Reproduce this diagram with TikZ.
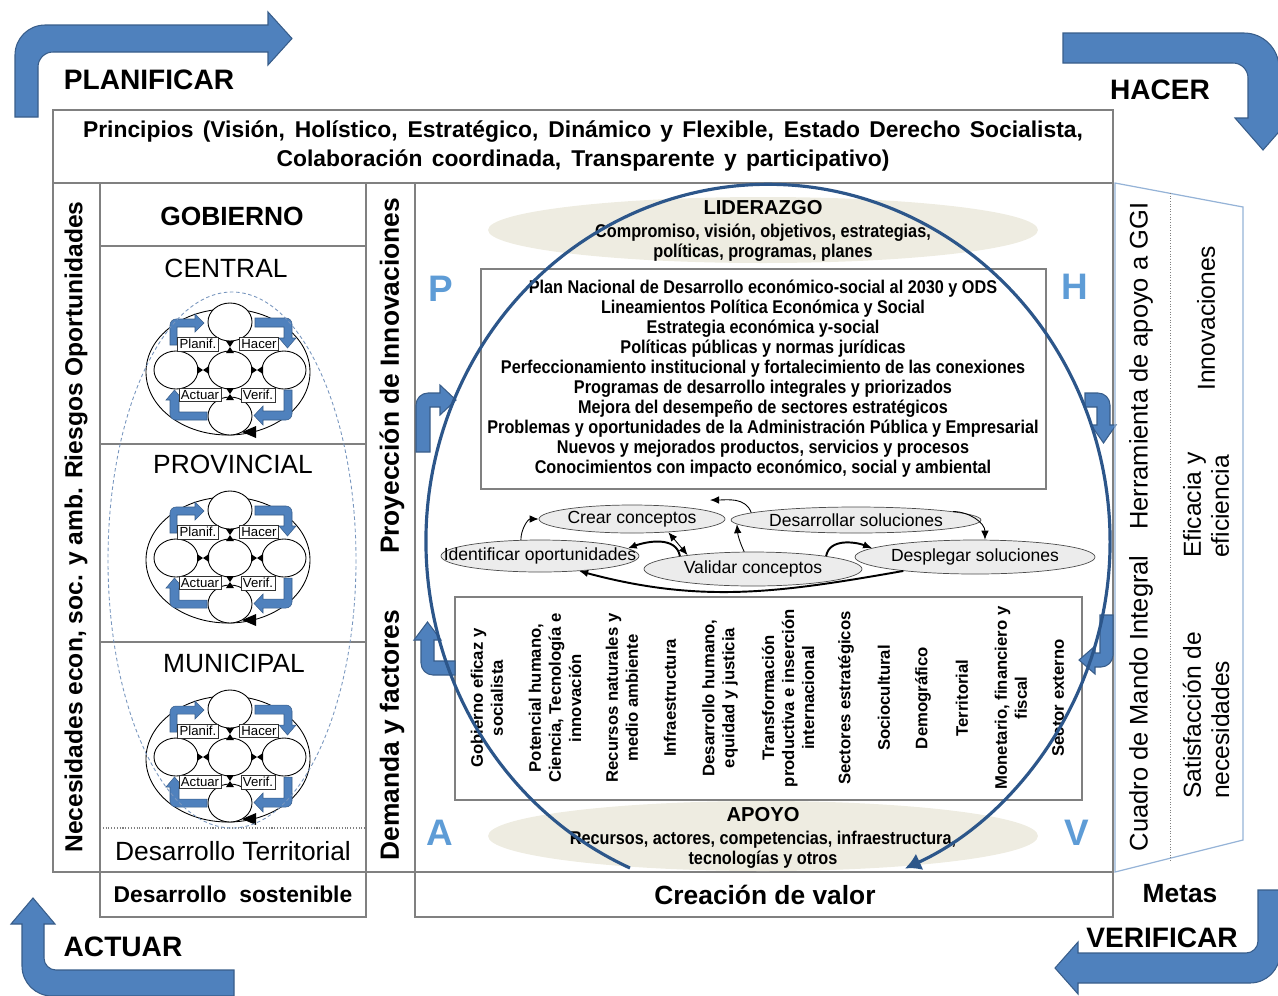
\documentclass[tikz,border=0pt]{standalone}
\usepackage{fontspec}
\setmainfont{Liberation Sans}
\newfontfamily\narrow[FakeStretch=0.88]{Liberation Sans}
\usetikzlibrary{arrows.meta,shapes.geometric}
\definecolor{azul}{RGB}{79,129,189}
\definecolor{azulborde}{RGB}{56,93,138}
\definecolor{arco}{RGB}{44,86,138}
\definecolor{azulletra}{RGB}{94,156,214}
\definecolor{beige}{RGB}{238,236,225}
\definecolor{grisfase}{RGB}{236,236,236}
\definecolor{borde}{RGB}{128,128,128}
\definecolor{trapecio}{RGB}{149,179,215}
\definecolor{punteado}{RGB}{120,150,190}
\tikzset{>={Latex[width=1.5mm,length=1.8mm]},
  marco/.style = {draw=borde, line width=0.7pt},
  titulo/.style = {font=\bfseries\fontsize{16}{19}\selectfont},
  nivel/.style = {font=\fontsize{15}{18}\selectfont},
  columna/.style = {rotate=90, font=\bfseries\fontsize{15}{18}\selectfont},
  sector/.style = {rotate=90, align=center, font=\bfseries\fontsize{9.5}{11.4}\selectfont},
  bloque/.style = {align=center, font=\narrow\bfseries\fontsize{10.5}{11.4}\selectfont},
  fase/.style = {ellipse, draw=black!70, fill=grisfase, inner sep=0pt,
    font=\fontsize{10}{12}\selectfont},
  letra/.style = {text=azulletra, font=\bfseries\fontsize{21}{24}\selectfont},
  flechazul/.style = {fill=azul, draw=azulborde, line width=0.6pt},
  etiq/.style = {draw=black!80, fill=white, inner sep=1.2pt, font=\fontsize{7.5}{8}\selectfont},
  fino/.style = {->, line width=0.5pt},
  grueso/.style = {->, line width=1.1pt},
}
% mini ciclo PDCA de cada nivel de gobierno
\newcommand{\cicloPDCA}[2]{%
  \begin{scope}[shift={(0,#1)}]
    \draw[fill=white, line width=0.5pt] (228,372) ellipse [x radius=82, y radius=63];
    \foreach \cx/\cy in {230/322, 176/370, 284/370, 230/416, 230/370}
      \draw[fill=white, line width=0.5pt] (\cx,\cy) ellipse [x radius=22, y radius=19];
    \fill (226,341) -- (234,341) -- (230,347) -- cycle (226,353) -- (234,353) -- (230,347) -- cycle;
    \fill (226,388) -- (234,388) -- (230,394) -- cycle (226,400) -- (234,400) -- (230,394) -- cycle;
    \fill (197,366) -- (197,374) -- (203,370) -- cycle (209,366) -- (209,374) -- (203,370) -- cycle;
    \fill (251,366) -- (251,374) -- (257,370) -- cycle (263,366) -- (263,374) -- (257,370) -- cycle;
    \filldraw[flechazul, line width=0.3pt] (170,345) -- (170,325) arc[start angle=180, end angle=270, radius=6]
      -- (195,319) -- (195,314) -- (204,323) -- (195,332) -- (195,327) -- (177,327) -- (177,345) -- cycle;
    \filldraw[flechazul, line width=0.3pt] (255,318) -- (286,318) arc[start angle=270, end angle=360, radius=6]
      -- (292,338) -- (296,338) -- (287.5,348) -- (279,338) -- (284,338) -- (284,327) -- (255,327) -- cycle;
    \filldraw[flechazul, line width=0.3pt] (284,390) -- (292,390) -- (292,414) arc[start angle=0, end angle=90, radius=6]
      -- (263,420) -- (263,425) -- (254,415.5) -- (263,406) -- (263,411) -- (284,411) -- cycle;
    \filldraw[flechazul, line width=0.3pt] (207,412) -- (207,420) -- (176,420) arc[start angle=90, end angle=180, radius=6]
      -- (170,400) -- (166,400) -- (174.5,390) -- (183,400) -- (179,400) -- (179,412) -- cycle;
    \node (#2-planif) [etiq] at (198,344) {Planif.};
    \node (#2-hacer) [etiq] at (259,344) {Hacer};
    \node (#2-actuar) [etiq] at (200,395) {Actuar};
    \node (#2-verif) [etiq] at (258,395) {Verif.};
    \fill (242,432) -- (256,426) -- (256,438) -- cycle;
  \end{scope}}

\begin{document}
\begin{tikzpicture}[x=0.02cm, y=-0.02cm]
  \useasboundingbox (0,0) rectangle (1278,995);

  % flechas grandes del ciclo
  \filldraw[flechazul] (15,117) -- (15,55) arc[start angle=180, end angle=270, radius=30]
    -- (268,25) -- (268,12) -- (292,38.5) -- (268,65) -- (268,52) -- (53,52)
    arc[start angle=270, end angle=180, radius=15] -- (38,117) -- cycle;
  \filldraw[flechazul] (1063,33) -- (1244,33) arc[start angle=270, end angle=360, radius=35]
    -- (1279,118) -- (1291,118) -- (1263,150) -- (1235,118) -- (1248,118) -- (1248,78)
    arc[start angle=0, end angle=-90, radius=15] -- (1063,63) -- cycle;
  \filldraw[flechazul] (33,898) -- (55,924) -- (44,924) -- (44,958)
    arc[start angle=180, end angle=90, radius=12] -- (234,970) -- (234,996) -- (52,996)
    arc[start angle=90, end angle=180, radius=30] -- (22,924) -- (11,924) -- cycle;
  \filldraw[flechazul] (1258,890) -- (1280,890) -- (1280,953)
    arc[start angle=0, end angle=90, radius=30] -- (1078,983) -- (1078,994) -- (1055,968)
    -- (1078,942) -- (1078,953) -- (1246,953) arc[start angle=90, end angle=0, radius=12] -- cycle;
  \node (planificar) [titulo] at (149,80) {PLANIFICAR};
  \node (hacer) [titulo] at (1160,90) {HACER};
  \node (actuar) [titulo] at (123,947) {ACTUAR};
  \node (verificar) [titulo] at (1162,938) {VERIFICAR};
  \node (metas) [font=\bfseries\fontsize{15}{18}\selectfont] at (1180,894) {Metas};

  % marco
  \draw[marco] (53,110) rectangle (1113,183);
  \draw[marco] (53,183) rectangle (100,872);
  \draw[marco] (100,183) rectangle (366,872);
  \draw[marco] (366,183) rectangle (415,872);
  \draw[marco] (415,183) rectangle (1113,872);
  \draw[marco] (100,872) rectangle (366,917);
  \draw[marco] (415,872) rectangle (1113,917);
  \draw[marco] (100,246) -- (366,246);
  \draw[marco] (100,444) -- (366,444);
  \draw[marco] (100,642) -- (366,642);
  \draw[borde, densely dotted, line width=0.6pt] (100,828) -- (366,828);
  \node (principios) [align=center, font=\bfseries\fontsize{13}{16.5}\selectfont] at (583,146)
    {\makebox[20cm][s]{Principios (Visión, Holístico, Estratégico, Dinámico y Flexible, Estado Derecho Socialista,}\\
     \makebox[12.26cm][s]{Colaboración coordinada, Transparente y participativo)}};

  % gobierno
  \node (necesidades) [columna, font=\bfseries\fontsize{14}{16}\selectfont] at (76,527)
    {Necesidades econ, soc. y amb. Riesgos Oportunidades};
  \node (gobierno) [font=\bfseries\fontsize{15}{18}\selectfont] at (232,216) {GOBIERNO};
  \node (central) [nivel] at (226,268) {CENTRAL};
  \node (provincial) [nivel] at (233,464) {PROVINCIAL};
  \node (municipal) [nivel] at (234,663) {MUNICIPAL};
  \cicloPDCA{0}{cen}
  \cicloPDCA{188}{pro}
  \cicloPDCA{387}{mun}
  \draw[punteado, dash pattern=on 2pt off 1.5pt, line width=0.5pt] (232,560) ellipse [x radius=124, y radius=268];
  \node (territorial) [nivel] at (233,851) {Desarrollo Territorial};
  \node (sostenible) [font=\bfseries\fontsize{13}{16}\selectfont] at (233,894) {Desarrollo\ \ sostenible};
  \node (proyeccion) [columna] at (392,376) {Proyección de Innovaciones};
  \node (demanda) [columna] at (392,735) {Demanda y factores};

  % centro
  \node (liderazgo) [ellipse, fill=beige, minimum width=11cm, minimum height=1.32cm] at (763,230) {};
  \node (apoyo) [ellipse, fill=beige, minimum width=11cm, minimum height=1.4cm] at (763,836) {};
  \node (lidtxt) [bloque] at (763,231)
    {{\rmfamily\fontsize{11.5}{13}\selectfont LIDERAZGO}\\[2pt]
     Compromiso, visión, objetivos, estrategias,\\políticas, programas, planes};
  \node (apotxt) [bloque] at (763,838)
    {{\rmfamily\fontsize{11.5}{13}\selectfont APOYO}\\[2pt]
     Recursos, actores, competencias, infraestructura,\\tecnologías y otros};
  \draw[marco, fill=white] (481,269) rectangle (1046,489);
  \node (plan) [bloque] at (763,379)
    {Plan Nacional de Desarrollo económico-social al 2030 y ODS\\
     Lineamientos Política Económica y Social\\
     Estrategia económica y-social\\
     Políticas públicas y normas jurídicas\\
     Perfeccionamiento institucional y fortalecimiento de las conexiones\\
     Programas de desarrollo integrales y priorizados\\
     Mejora del desempeño de sectores estratégicos\\
     Problemas y oportunidades de la Administración Pública y Empresarial\\
     Nuevos y mejorados productos, servicios y procesos\\
     Conocimientos con impacto económico, social y ambiental};
  \draw[marco, fill=white] (455,597) rectangle (1082,800);
  \node (gobeficaz) [sector] at (487,698) {Gobierno eficaz y\\socialista};
  \node (potencial) [sector] at (555,698) {Potencial humano,\\Ciencia, Tecnología e\\innovación};
  \node (recursos) [sector] at (622,698) {Recursos naturales y\\medio ambiente};
  \node (infra) [sector] at (670,698) {Infraestructura};
  \node (deshumano) [sector] at (720,698) {Desarrollo humano,\\equidad y justicia};
  \node (transf) [sector] at (788,698) {Transformación\\productiva e inserción\\internacional};
  \node (sectores) [sector] at (846,698) {Sectores estratégicos};
  \node (sociocult) [sector] at (884,698) {Sociocultural};
  \node (demog) [sector] at (923,698) {Demográfico};
  \node (terri) [sector] at (962,698) {Territorial};
  \node (monetario) [sector] at (1011,698) {Monetario, financiero y\\fiscal};
  \node (externo) [sector] at (1058,698) {Sector externo};

  % fases de innovacion
  \node (crear) [fase, minimum width=3.72cm, minimum height=0.56cm] at (632,519) {\makebox[0pt]{Crear conceptos}};
  \node (desarrollar) [fase, minimum width=5cm, minimum height=0.52cm] at (856,520) {\makebox[0pt]{Desarrollar soluciones}};
  \node (identificar) [fase, minimum width=3.96cm, minimum height=0.64cm] at (540,556) {\makebox[0pt]{Identificar oportunidades}};
  \node (validar) [fase, minimum width=4.36cm, minimum height=0.68cm] at (753,569) {\makebox[0pt]{Validar conceptos}};
  \node (desplegar) [fase, minimum width=4.8cm, minimum height=0.68cm] at (975,557) {\makebox[0pt]{Desplegar soluciones}};
  \coordinate (retro) at (710,500);
  \draw[fino] (identificar.140) to[out=90, in=180] (crear.west);
  \draw[fino] (desarrollar.176) to[out=110, in=0] (retro);
  \draw[fino] (desarrollar.5) to[out=0, in=90] (desplegar.60);
  \draw[fino, <->] (crear.-20) -- (validar.168);
  \draw[fino] (validar.117) to[bend left=10] (desarrollar.182);
  \draw[grueso] (validar.170) to[out=100, in=20] (identificar.5);
  \draw[grueso] (validar.10) to[out=80, in=160] (desplegar.175);
  \draw[grueso] (desplegar.191) to[out=190, in=-15] (identificar.339);

  % flechas pequenas y letras PHVA
  \filldraw[flechazul] (416,452) -- (416,405) arc[start angle=180, end angle=270, radius=12]
    -- (440,393) -- (440,385) -- (456,400) -- (440,415) -- (440,407) -- (430,407) -- (430,452) -- cycle;
  \filldraw[flechazul] (455,675) -- (433,675) arc[start angle=90, end angle=180, radius=12]
    -- (421,640) -- (414,640) -- (427.5,622) -- (441,640) -- (434,640) -- (434,661) -- (455,661) -- cycle;
  \filldraw[flechazul] (1085,393) -- (1098,393) arc[start angle=270, end angle=360, radius=12]
    -- (1110,425) -- (1116,425) -- (1103.5,443) -- (1091,425) -- (1097,425) -- (1097,407) -- (1085,407) -- cycle;
  \filldraw[flechazul] (1100,615) -- (1113,615) -- (1113,655) arc[start angle=0, end angle=90, radius=12]
    -- (1095,667) -- (1095,674) -- (1079,660) -- (1095,646) -- (1095,653) -- (1100,653) -- cycle;
  \node (p) [letra] at (441,289) {P};
  \node (h) [letra] at (1075,287) {H};
  \node (a) [letra] at (440,833) {A};
  \node (v) [letra] at (1077,833) {V};
  \node (valor) [font=\bfseries\fontsize{15}{18}\selectfont] at (765,895) {Creación de valor};

  % cuadro de mando
  \draw[trapecio, line width=0.7pt] (1115,183) -- (1243,207) -- (1243,840) -- (1115,872) -- cycle;
  \draw[borde, densely dotted, line width=0.5pt] (1170,193) -- (1170,862);
  \node (cmi) [rotate=90, font=\fontsize{14.5}{17}\selectfont] at (1141,527)
    {Cuadro de Mando Integral\quad Herramienta de apoyo a GGI};
  \node (innov) [rotate=90, anchor=west, font=\fontsize{14}{16}\selectfont] at (1206,397) {Innovaciones};
  \node (eficacia) [rotate=90, anchor=west, align=left, font=\fontsize{14}{16}\selectfont] at (1206,564) {Eficacia y\\eficiencia};
  \node (satisf) [rotate=90, anchor=west, align=left, font=\fontsize{14}{16}\selectfont] at (1206,805) {Satisfacción de\\necesidades};

  % ciclo grande
  \draw[arco, line width=1.8pt, -{Latex[width=3.6mm,length=3.2mm]}] (630,868)
    arc[start angle=113.8, end angle=426.4, x radius=342, y radius=357];
\end{tikzpicture}
\end{document}
